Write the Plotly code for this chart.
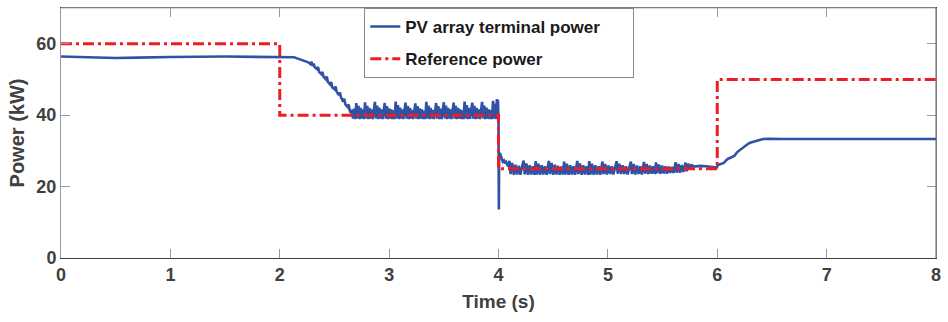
import plotly.graph_objects as go

# ---------------- data ----------------
ref_t = [0, 2, 2, 4, 4, 6, 6, 8]
ref_p = [60, 60, 40, 40, 25, 25, 50, 50]

pv_t = [
    0.0, 0.1, 0.3, 0.5, 0.7, 1.0, 1.5, 2.0, 2.05, 2.10,
    2.13, 2.16, 2.18, 2.20, 2.22, 2.24, 2.26, 2.28, 2.29, 2.30,
    2.31, 2.32, 2.34, 2.35, 2.36, 2.38, 2.39, 2.40, 2.42, 2.43,
    2.44, 2.46, 2.47, 2.48, 2.50, 2.51, 2.52, 2.54, 2.55, 2.56,
    2.58, 2.59, 2.60, 2.62, 2.63, 2.64, 2.65,
    2.66, 2.67, 2.68, 2.69, 2.700, 2.71, 2.72, 2.73, 2.74, 2.75, 2.76, 2.77,
    2.780, 2.79, 2.80, 2.81, 2.82, 2.83, 2.84, 2.85, 2.86,
    2.870, 2.88, 2.89, 2.90, 2.91, 2.92, 2.93, 2.94, 2.95,
    2.960, 2.97, 2.98, 2.99, 3.00, 3.01, 3.02, 3.03, 3.04, 3.05,
    3.060, 3.07, 3.08, 3.09, 3.10, 3.11, 3.12, 3.13, 3.14,
    3.150, 3.16, 3.17, 3.18, 3.19, 3.20, 3.21, 3.22, 3.23,
    3.240, 3.25, 3.26, 3.27, 3.28, 3.29, 3.30, 3.31, 3.32, 3.33,
    3.340, 3.35, 3.36, 3.37, 3.38, 3.39, 3.40, 3.41, 3.42,
    3.430, 3.44, 3.45, 3.46, 3.47, 3.48, 3.49,
    3.500, 3.51, 3.52, 3.53, 3.54, 3.55, 3.56, 3.57, 3.58,
    3.590, 3.60, 3.61, 3.62, 3.63, 3.64, 3.65, 3.66, 3.67, 3.68,
    3.690, 3.70, 3.71, 3.72, 3.73, 3.74, 3.75,
    3.760, 3.77, 3.78, 3.79, 3.80, 3.81, 3.82, 3.83, 3.84,
    3.850, 3.86, 3.87, 3.88, 3.89, 3.90, 3.91, 3.92, 3.93, 3.94,
    3.950, 3.96, 3.97, 3.98, 3.985, 3.99, 3.995, 4.000,
    4.003, 4.006, 4.012, 4.02, 4.03, 4.04, 4.05, 4.06, 4.07, 4.08, 4.09,
    4.100, 4.11, 4.125, 4.14, 4.155, 4.17, 4.185, 4.20, 4.215,
    4.230, 4.24, 4.255, 4.27, 4.285, 4.30, 4.315, 4.33,
    4.340, 4.35, 4.365, 4.38, 4.395, 4.41, 4.425, 4.44, 4.45,
    4.460, 4.47, 4.485, 4.50, 4.515, 4.53, 4.545, 4.56, 4.575, 4.59,
    4.600, 4.61, 4.625, 4.64, 4.655, 4.67, 4.685, 4.70, 4.71,
    4.720, 4.73, 4.745, 4.76, 4.775, 4.79, 4.805, 4.82,
    4.830, 4.84, 4.855, 4.87, 4.885, 4.90, 4.915, 4.93, 4.94,
    4.950, 4.96, 4.975, 4.99, 5.005, 5.02, 5.035, 5.05, 5.065,
    5.080, 5.09, 5.105, 5.12, 5.135, 5.15, 5.165, 5.18, 5.195,
    5.210, 5.22, 5.235, 5.25, 5.265, 5.28, 5.295, 5.31, 5.32,
    5.330, 5.34, 5.355, 5.37, 5.385, 5.40, 5.415, 5.43,
    5.440, 5.45, 5.465, 5.48, 5.495, 5.51, 5.525, 5.54, 5.555, 5.57, 5.585, 5.60,
    5.620, 5.63, 5.645, 5.66, 5.675, 5.69, 5.70,
    5.710, 5.72, 5.735, 5.75, 5.765, 5.78, 5.85, 5.90, 5.95, 5.995,
    6.005, 6.03, 6.06, 6.08, 6.10, 6.13, 6.16, 6.18, 6.20, 6.23,
    6.26, 6.28, 6.30, 6.33, 6.36, 6.38, 6.42, 6.46, 6.6, 7.0, 7.5, 8.0,
]
pv_p = [
    56.4, 56.3, 56.1, 56.0, 56.1, 56.3, 56.4, 56.4, 56.4, 56.4,
    56.2, 55.9, 55.7, 55.4, 55.2, 55.0, 54.8, 54.3, 54.9, 53.8,
    54.4, 53.4, 52.9, 53.5, 52.1, 51.5, 52.1, 50.8, 50.1, 50.8,
    49.3, 48.6, 49.3, 47.8, 47.3, 48.0, 46.6, 45.6, 46.3, 45.0,
    43.8, 44.6, 43.0, 42.3, 43.0, 41.3, 40.6,
    41.5, 39.0, 41.8, 38.9, 43.4, 39.1, 42.6, 38.9, 42.0, 39.0, 41.6, 38.9,
    43.6, 39.1, 42.6, 38.9, 42.0, 39.0, 41.6, 38.9, 41.3,
    43.7, 39.1, 42.7, 38.9, 42.1, 39.0, 41.6, 38.9, 41.3,
    43.4, 39.0, 42.5, 38.9, 41.9, 39.0, 41.6, 38.9, 41.3, 38.9,
    43.8, 39.1, 42.8, 38.9, 42.1, 39.0, 41.6, 38.9, 41.3,
    43.5, 39.0, 42.6, 38.9, 42.0, 39.0, 41.5, 38.9, 41.3,
    43.3, 39.0, 42.5, 38.9, 41.9, 39.0, 41.6, 38.9, 41.2, 38.9,
    43.7, 39.1, 42.7, 38.9, 42.0, 39.0, 41.5, 38.9, 41.3,
    43.4, 39.0, 42.5, 38.9, 41.8, 38.9, 41.4,
    43.6, 39.1, 42.7, 38.9, 42.0, 39.0, 41.6, 38.9, 41.3,
    43.5, 39.0, 42.6, 38.9, 42.0, 39.0, 41.6, 38.9, 41.3, 38.9,
    43.8, 39.1, 42.8, 38.9, 42.0, 39.0, 41.5,
    43.5, 39.0, 42.6, 38.9, 42.0, 39.0, 41.6, 38.9, 41.3,
    43.7, 39.1, 42.7, 38.9, 42.1, 39.0, 41.6, 38.9, 41.4, 38.9,
    44.0, 39.0, 43.2, 38.9, 44.5, 39.2, 44.2, 39.0,
    13.6, 29.0, 29.4, 28.4, 27.8, 27.0, 27.3, 26.5, 26.9, 26.2, 25.6,
    27.2, 23.5, 26.6, 23.3, 26.1, 23.4, 25.8, 23.3, 25.6,
    27.3, 23.4, 26.5, 23.3, 26.0, 23.4, 25.7, 23.3,
    27.1, 23.4, 26.4, 23.3, 26.0, 23.4, 25.7, 23.3, 25.5,
    27.2, 23.5, 26.6, 23.3, 26.1, 23.4, 25.8, 23.3, 25.6, 23.4,
    27.0, 23.4, 26.4, 23.3, 26.0, 23.4, 25.7, 23.3, 25.5,
    27.2, 23.5, 26.5, 23.3, 26.0, 23.4, 25.7, 23.3,
    27.1, 23.4, 26.4, 23.3, 26.0, 23.4, 25.7, 23.3, 25.5,
    27.0, 23.5, 26.3, 23.4, 25.9, 23.5, 25.7, 23.4, 25.5,
    27.1, 23.6, 26.4, 23.5, 26.0, 23.5, 25.7, 23.4, 25.6,
    27.0, 23.5, 26.3, 23.4, 25.9, 23.5, 25.7, 23.4, 25.5,
    26.9, 23.6, 26.3, 23.5, 25.9, 23.6, 25.7, 23.5,
    26.8, 23.7, 26.2, 23.6, 25.9, 23.7, 25.7, 23.6, 25.6, 23.8, 25.5, 23.8,
    26.8, 23.9, 26.3, 23.9, 26.0, 24.1, 25.9,
    26.7, 24.3, 26.4, 24.8, 26.2, 25.6, 25.8, 25.7, 25.5, 25.3,
    26.0, 26.3, 26.6, 27.3, 27.8, 28.2, 28.7, 29.6, 30.1, 30.6,
    31.4, 31.9, 32.3, 32.6, 32.8, 33.1, 33.3, 33.4, 33.3, 33.3, 33.3, 33.3,
]

x_ticks = [0, 1, 2, 3, 4, 5, 6, 7, 8]
y_ticks = [0, 20, 40, 60]

series_names = ["PV array terminal power\u00a0\u00a0\u00a0\u00a0\u00a0\u00a0", "Reference power"]

BLUE = "#2F52A4"
RED = "#EE1C25"
TXT = "#404040"
FONT = "Liberation Sans, Arial, Helvetica, sans-serif"

fig = go.Figure()
fig.add_trace(go.Scatter(
    x=pv_t, y=pv_p, mode="lines", name=series_names[0], legendgroup="a",
    line=dict(color=BLUE, width=2.6),
))
fig.add_trace(go.Scatter(
    x=ref_t, y=ref_p, mode="lines", name=series_names[1], legendgroup="b",
    line=dict(color=RED, width=3, dash="11px,4px,3px,4px"),
))

axis_common = dict(
    ticks="inside", ticklen=9, tickcolor="#999999", tickwidth=1,
    showgrid=False, zeroline=False, showline=True, mirror="ticks",
    tickfont=dict(family=FONT, size=18, color=TXT, weight="bold"),
)

fig.update_xaxes(
    range=[0, 8], tickvals=x_ticks, linecolor="#404040",
    title=dict(text="Time (s)", font=dict(family=FONT, size=19, color=TXT, weight="bold"), standoff=11),
    **axis_common,
)
fig.update_yaxes(
    range=[0, 70], tickvals=y_ticks, linecolor="#9a9a9a",
    title=dict(text="Power (kW)", font=dict(family=FONT, size=20, color=TXT, weight="bold"), standoff=6),
    **axis_common,
)

# border colours of the box: light top, dark right
fig.add_shape(type="line", xref="paper", yref="paper", x0=0, x1=1, y0=1, y1=1,
              line=dict(color="#b4b4b4", width=1))
fig.add_shape(type="line", xref="paper", yref="paper", x0=1, x1=1, y0=0, y1=1,
              line=dict(color="#606060", width=1))

fig.update_layout(
    width=948, height=322,
    margin=dict(l=61, r=10, t=7, b=64),
    paper_bgcolor="white", plot_bgcolor="white",
    showlegend=True,
    legend=dict(
        x=0.3466, y=1, xanchor="left", yanchor="top",
        bordercolor="#8a8a8a", borderwidth=1, bgcolor="white",
        font=dict(family=FONT, size=17, color="#1a1a1a", weight="bold"),
        tracegroupgap=7, traceorder="grouped",
    ),
)

fig.write_html("out.html")
